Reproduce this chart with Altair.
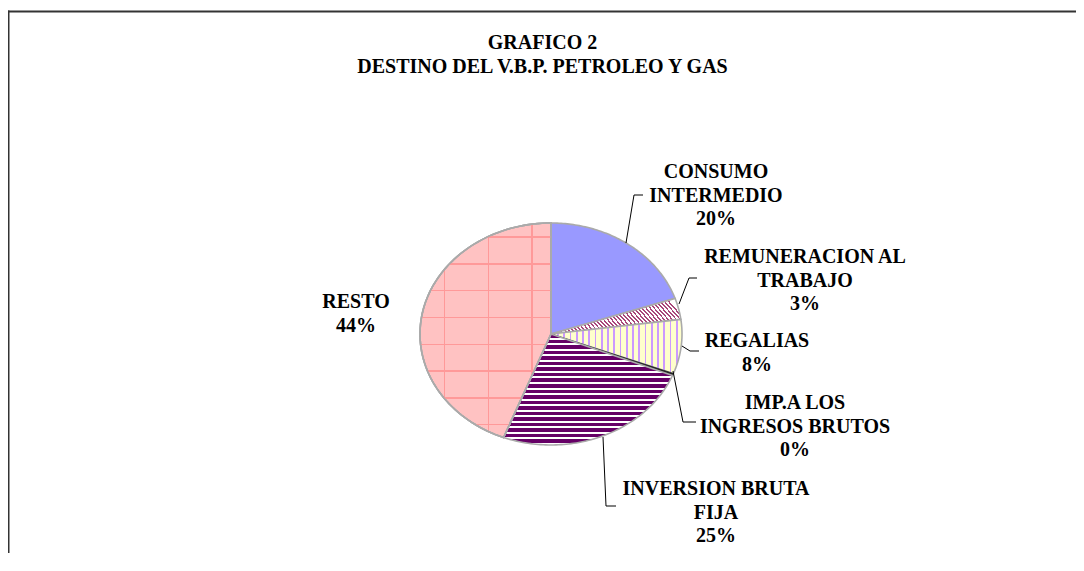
import altair as alt
import pandas as pd

# ---------------- data ----------------
categories = ["CONSUMO INTERMEDIO", "REMUNERACION AL TRABAJO", "REGALIAS",
              "IMP.A LOS INGRESOS BRUTOS", "INVERSION BRUTA FIJA", "RESTO"]
label_text = ["CONSUMO|INTERMEDIO", "REMUNERACION AL|TRABAJO", "REGALIAS",
              "IMP.A LOS|INGRESOS BRUTOS", "INVERSION BRUTA|FIJA", "RESTO"]
values = [19.8, 3.1, 7.9, 0.3, 24.8, 44.1]
title_text = "GRAFICO 2|DESTINO DEL V.B.P. PETROLEO Y GAS"

# ---------------- layout (chart pixel space) ----------------
W, H = 1068, 545
CX, CY, RX, RY = 543, 326, 131, 111
NSEG = 80
lab_x = [708, 797, 749, 787, 708, 348]
lab_y = [164, 249, 333, 395, 481, 294]
leaders = [
    [(626, 243), (634, 195), (643, 195)],
    [(679, 304), (689, 278), (697, 278)],
    [(682, 346), (690, 351), (699, 351)],
    [(673, 371), (683, 422), (696, 422)],
    [(603, 437), (606, 506), (616, 506)],
]

FONT = "Liberation Serif"
CLEAR = "rgba(255,255,255,0)"

df = pd.DataFrame({"cat": categories, "lab": label_text, "value": values,
                   "order": list(range(len(categories))),
                   "lx": lab_x, "ly": lab_y})

xs = alt.Scale(domain=[0, W], range=[0, W], nice=False, zero=False)
ys = alt.Scale(domain=[0, H], range=[0, H], nice=False, zero=False)


def stripes(n, bg, fg, frac, x1, y1, x2, y2, phase=0.0):
    stops = []
    for k in range(n):
        a = round((k + phase) / n, 5)
        b = round((k + phase + frac) / n, 5)
        c = round(min(k + 1, n) / n, 5)
        b = min(b, c)
        stops += [alt.GradientStop(offset=round(k / n, 5), color=bg),
                  alt.GradientStop(offset=a, color=bg),
                  alt.GradientStop(offset=a, color=fg), alt.GradientStop(offset=b, color=fg),
                  alt.GradientStop(offset=b, color=bg), alt.GradientStop(offset=c, color=bg)]
    return alt.LinearGradient(gradient="linear", stops=stops, x1=x1, y1=y1, x2=x2, y2=y2)


fills = [
    "#9999FF",
    stripes(34, "#FFFFFF", "#A8477A", 0.45, 0, 0.62, 1, 0.38),
    stripes(21, "#FFFFCC", "#CC99FF", 0.28, 0, 0, 1, 0),
    "#222222",
    stripes(20, "#FFFFFF", "#660066", 0.64, 0, 0, 0, 1),
    "#FFC2C2",
]
strokes = ["#AAAAAA", "#AAAAAA", "#AAAAAA", "#222222", "#AAAAAA", "#AAAAAA"]

base = (
    alt.Chart(df)
    .transform_joinaggregate(total="sum(value)")
    .transform_window(cum="sum(value)", sort=[alt.SortField("order")])
    .transform_calculate(
        start="(datum.cum - datum.value) / datum.total",
        end="datum.cum / datum.total",
        steps=f"sequence(0, {NSEG + 2})",
    )
    .transform_flatten(["steps"], as_=["step"])
    .transform_calculate(
        ang=f"2 * PI * (datum.start + (datum.end - datum.start) * (datum.step - 1) / {NSEG})"
    )
    .transform_calculate(
        px=f"datum.step == 0 ? {CX} : {CX} + {RX} * sin(datum.ang)",
        py=f"datum.step == 0 ? {CY} : {CY} - {RY} * cos(datum.ang)",
    )
)

enc = dict(x=alt.X("px:Q", scale=xs, axis=None),
           y=alt.Y("py:Q", scale=ys, axis=None),
           order="step:Q")

layers = []
for i in range(len(categories)):
    layers.append(
        base.transform_filter(f"datum.order == {i}")
        .mark_line(interpolate="linear-closed", fill=fills[i], stroke=strokes[i],
                   strokeWidth=1.6 if i != 3 else 0.8, fillOpacity=1)
        .encode(**enc)
    )

# grid pattern overlay on RESTO
resto_v = stripes(3, CLEAR, "#FF9999", 0.03, 0, 0, 1, 0, phase=0.55)
resto_h = stripes(8, CLEAR, "#FF9999", 0.05, 0, 0, 0, 1, phase=0.5)
for g in (resto_v, resto_h):
    layers.append(
        base.transform_filter("datum.order == 5")
        .mark_line(interpolate="linear-closed", fill=g, stroke="#AAAAAA",
                   strokeWidth=1.6, fillOpacity=1)
        .encode(**enc)
    )

# leader lines
lead_rows = []
for j, pts in enumerate(leaders):
    for k, (x, y) in enumerate(pts):
        lead_rows.append({"lid": j, "k": k, "x": x - 8, "y": y - 8})
lead = alt.Chart(pd.DataFrame(lead_rows)).mark_line(color="black", strokeWidth=1).encode(
    x=alt.X("x:Q", scale=xs, axis=None), y=alt.Y("y:Q", scale=ys, axis=None),
    detail="lid:N", order="k:Q")

labels = (
    alt.Chart(df)
    .transform_joinaggregate(total="sum(value)")
    .transform_calculate(txt="datum.lab + '|' + round(100 * datum.value / datum.total) + '%'")
    .mark_text(font=FONT, fontSize=20, fontWeight="bold", color="black",
               lineBreak="|", lineHeight=23.5, align="center", baseline="middle")
    .encode(x=alt.X("lx:Q", scale=xs, axis=None), y=alt.Y("ly:Q", scale=ys, axis=None),
            text="txt:N")
)

one = pd.DataFrame({"t": [title_text]})
title = alt.Chart(one).mark_text(font=FONT, fontSize=20, fontWeight="bold", color="black",
                                 lineBreak="|", lineHeight=24, align="center",
                                 baseline="middle").encode(
    x=alt.value(534.5), y=alt.value(35), text="t:N")

frame_top = alt.Chart(one).mark_rule(color="#333333", strokeWidth=2).encode(
    x=alt.value(0), x2=alt.value(W), y=alt.value(3.5))
frame_left = alt.Chart(one).mark_rule(color="#333333", strokeWidth=2).encode(
    x=alt.value(0.5), y=alt.value(2.5), y2=alt.value(H))

chart = alt.layer(*layers, lead, labels, title, frame_top, frame_left).properties(
    width=W, height=H, padding=0, autosize=alt.AutoSizeParams(type="none"),
    background="white"
).configure_view(stroke=None)

chart.save("out.html", embed_options={"renderer": "svg", "actions": False})
